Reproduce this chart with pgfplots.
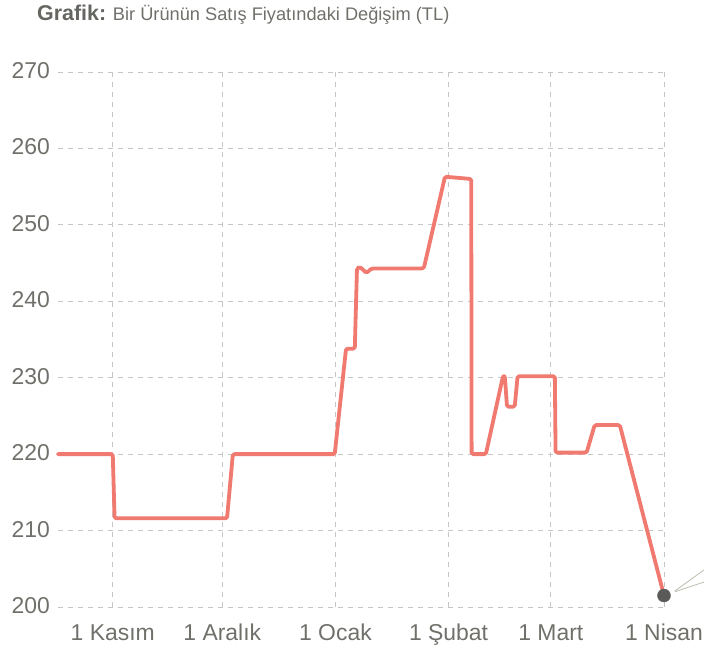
\documentclass[border=0pt]{standalone}
\usepackage{fontspec}
\setmainfont{Liberation Sans}
\usepackage{pgfplots}
\pgfplotsset{compat=1.18}
\definecolor{linered}{RGB}{240,122,112}
\definecolor{txtgray}{RGB}{112,112,107}
\definecolor{titlegray}{RGB}{100,102,98}
\definecolor{gridgray}{RGB}{198,198,198}
\definecolor{dotgray}{RGB}{90,90,88}
\definecolor{callout}{RGB}{185,190,175}
\begin{document}
\begin{tikzpicture}
\path[use as bounding box] (-58bp,-43bp) rectangle (646bp,607bp);
\node[anchor=base west, inner sep=0pt, text=txtgray, font=\fontsize{18.3}{22}\selectfont] at (-21bp,586bp) {\textcolor{titlegray}{\fontsize{21.5}{24}\selectfont\textbf{Grafik:}} Bir Ürünün Satış Fiyatındaki Değişim (TL)};
\begin{axis}[
 at={(0,0)}, anchor=south west,
 scale only axis, width=606bp, height=535bp,
 xmin=-15, xmax=151, ymin=200, ymax=270,
 axis line style={draw=none},
 tick style={draw=none},
 xtick={0,30,61,92,120,151},
 xticklabels={1 Kasım,1 Aralık,1 Ocak,1 Şubat,1 Mart,1 Nisan},
 ytick={200,210,...,270},
 grid=major,
 major grid style={gridgray, line width=0.9bp, dash pattern=on 5bp off 5bp},
 ticklabel style={font=\fontsize{23}{27}\selectfont, text=txtgray, inner sep=0pt},
 /pgf/number format/assume math mode=true,
 xticklabel style={anchor=base, yshift=-33bp},
 yticklabel style={anchor=base east, xshift=-8bp, yshift=-6.5bp},
 clip=false,
]
\addplot[linered, line width=3.8bp, line join=round, line cap=round, rounded corners=1.5bp] table {
x y
-15 220
0 220
0.5 211.6
31.3 211.6
32.9 220
60.8 220
63.9 233.8
66.3 233.8
66.9 244.3
67.7 244.5
69.5 243.7
70.9 244.3
85.2 244.3
91 256.3
98.2 256.0
98.3 220
102.2 220
106.9 230.2
107.4 230.2
108 226.2
110.1 226.2
110.9 230.2
121.1 230.2
121.3 220.2
129.8 220.2
132 223.8
138.9 223.8
151 201.5
};
\addplot[only marks, mark=*, mark size=6.5bp, dotgray] coordinates {(151,201.5)};
\draw[callout, line width=0.8bp] (axis cs:154,202.1) -- ++(30bp,21.7bp);
\draw[callout, line width=0.8bp] (axis cs:154,202.0) -- ++(30bp,10bp);
\end{axis}
\end{tikzpicture}
\end{document}
